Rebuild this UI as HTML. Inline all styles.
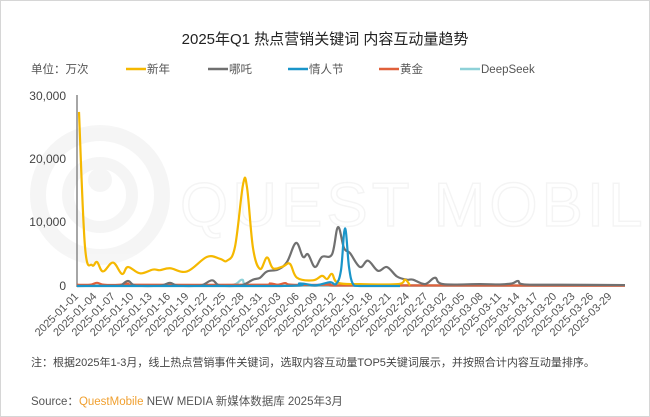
<!DOCTYPE html>
<html><head><meta charset="utf-8"><style>
html,body{margin:0;padding:0;background:#fff;}
body{width:650px;height:417px;overflow:hidden;position:relative;font-family:"Liberation Sans","Noto Sans CJK SC",sans-serif;}
.frame{position:absolute;left:0;top:0;width:648px;height:415px;border:1px solid #d6d6d6;}
</style></head><body>
<div class="frame"></div>
<svg id="s" width="650" height="417" style="position:absolute;left:0;top:0" font-family="Liberation Sans, Noto Sans CJK SC, sans-serif">
<g opacity="0.035" fill="none" stroke="#000">
<circle cx="100" cy="195" r="62" stroke-width="16"/>
<circle cx="100" cy="195" r="32" stroke-width="12"/>
<circle cx="100" cy="180" r="12" fill="#000" stroke="none"/>
</g>
<text x="180" y="226" font-size="62" fill="none" stroke="#000" stroke-width="1.5" opacity="0.04" letter-spacing="4">QUEST MOBILE</text>
<text x="325" y="44" font-size="15" text-anchor="middle" fill="#222">2025年Q1 热点营销关键词 内容互动量趋势</text>
<g font-size="11.5" fill="#555">
<text x="31" y="73">单位：万次</text>
<line x1="126" y1="69" x2="146" y2="69" stroke="#F5B800" stroke-width="2.5"/><text x="147" y="73">新年</text>
<line x1="208" y1="69" x2="228" y2="69" stroke="#707070" stroke-width="2.5"/><text x="229" y="73">哪吒</text>
<line x1="288" y1="69" x2="308" y2="69" stroke="#1A95C9" stroke-width="2.5"/><text x="309" y="73">情人节</text>
<line x1="379" y1="69" x2="399" y2="69" stroke="#E0603A" stroke-width="2.5"/><text x="400" y="73">黄金</text>
<line x1="460" y1="69" x2="480" y2="69" stroke="#8ED1D8" stroke-width="2.5"/><text x="481" y="73">DeepSeek</text>
</g>
<g font-size="12" fill="#444" text-anchor="end">
<text x="66" y="100">30,000</text>
<text x="66" y="163">20,000</text>
<text x="66" y="226">10,000</text>
<text x="66" y="290">0</text>
</g>
<line x1="77" y1="95" x2="77" y2="287" stroke="#888" stroke-width="1.5"/>
<line x1="77" y1="286.5" x2="625" y2="286.5" stroke="#bbb" stroke-width="1"/>
<g id="series" fill="none" stroke-width="2.2" stroke-linejoin="round"></g>
<g id="ticks" font-size="11" fill="#555"></g>
<text x="31" y="366" font-size="11" fill="#444">注：根据2025年1-3月，线上热点营销事件关键词，选取内容互动量TOP5关键词展示，并按照合计内容互动量排序。</text>
<text x="31" y="405" font-size="11.5" fill="#555">Source：<tspan fill="#F0A030">QuestMobile</tspan> NEW MEDIA 新媒体数据库 2025年3月</text>
</svg>
<script>
var ns="http://www.w3.org/2000/svg";
function Y(v){return 286-v*0.00633;}
function path(pts){var p=pts.map(function(a){return [a[0],Y(a[1])]});var d="M"+p[0][0]+","+p[0][1];
for(var i=0;i<p.length-1;i++){var p0=p[i-1]||p[i],p1=p[i],p2=p[i+1],p3=p[i+2]||p2;var t=0.18;
var c1x=p1[0]+(p2[0]-p0[0])*t,c1y=p1[1]+(p2[1]-p0[1])*t,c2x=p2[0]-(p3[0]-p1[0])*t,c2y=p2[1]-(p3[1]-p1[1])*t;
c1y=Math.min(c1y,286);c2y=Math.min(c2y,286);
d+=" C"+c1x+","+c1y+" "+c2x+","+c2y+" "+p2[0]+","+p2[1];}return d;}
var S=[
["#8ED1D8",[[77,100],[200,100],[232,150],[242,1000],[250,150],[300,100],[340,100],[400,100],[625,100]]],
["#E0603A",[[77,200],[90,200],[97,500],[104,200],[120,200],[128,400],[136,200],[262,200],[270,400],[278,200],[285,450],[292,200],[325,200],[330,300],[336,100],[400,100],[625,50]]],
["#707070",[[77,0],[110,50],[120,50],[128,800],[136,50],[160,50],[170,500],[178,50],[200,50],[212,900],[220,50],[240,50],[253,1000],[260,1300],[267,2300],[278,2600],[287,3800],[296,6800],[303,4600],[308,5000],[315,3000],[322,4600],[332,5000],[338,9300],[344,6000],[350,5200],[360,3000],[368,4000],[378,2400],[387,3000],[397,1500],[407,1000],[413,1000],[425,300],[435,1300],[443,300],[480,300],[500,250],[512,400],[518,800],[524,250],[560,200],[625,150]]],
["#F5B800",[[79,27500],[85,6200],[92,3300],[97,3800],[103,2300],[113,3700],[122,1900],[128,3000],[140,2000],[153,2600],[160,2500],[170,2800],[187,2300],[207,4600],[220,4300],[227,4000],[235,6200],[243,16000],[247,15600],[253,6000],[260,2700],[267,4500],[273,2800],[283,3100],[290,3500],[297,1300],[313,900],[322,1600],[327,1100],[332,1900],[338,500],[360,300],[398,300],[405,1000],[410,100]]],
["#1A95C9",[[77,0],[280,0],[300,400],[315,100],[330,600],[336,300],[341,2500],[345,9100],[349,3000],[353,300],[360,0],[400,0]]]
];
var g=document.getElementById("series");
S.forEach(function(s){var e=document.createElementNS(ns,"path");e.setAttribute("d",path(s[1]));e.setAttribute("stroke",s[0]);g.appendChild(e);});
var t=document.getElementById("ticks");var base=new Date(Date.UTC(2025,0,1));
for(var i=0;i<=87;i+=3){var d=new Date(base.getTime()+i*864e5);var m=("0"+(d.getUTCMonth()+1)).slice(-2),dd=("0"+d.getUTCDate()).slice(-2);
var x=79+i*6.13;var e=document.createElementNS(ns,"text");e.setAttribute("x",x);e.setAttribute("y",297);e.setAttribute("text-anchor","end");
e.setAttribute("transform","rotate(-45 "+x+" 297)");e.textContent="2025-"+m+"-"+dd;t.appendChild(e);}
</script>
</body></html>
